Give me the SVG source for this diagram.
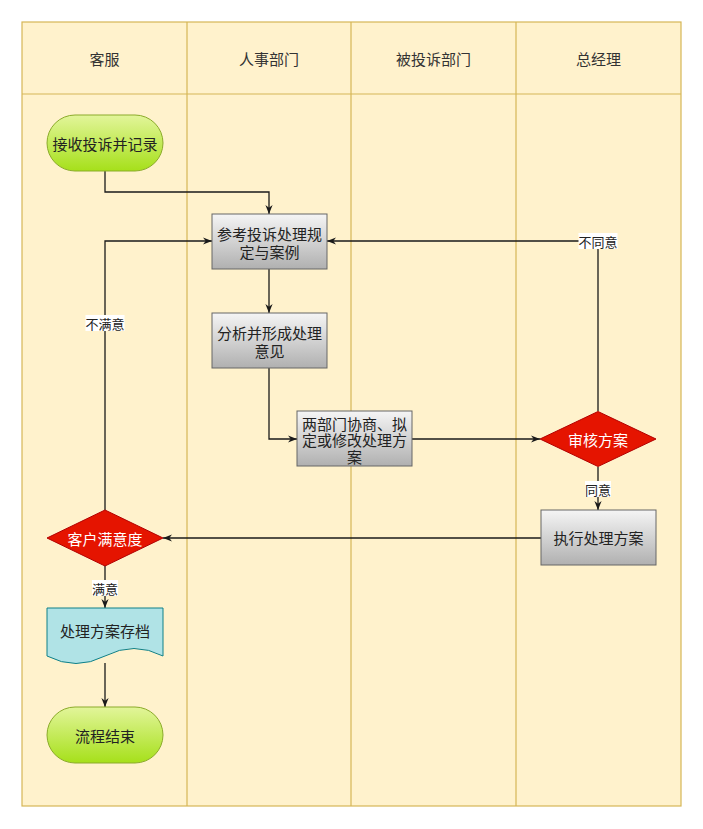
<svg xmlns="http://www.w3.org/2000/svg" width="703" height="829" viewBox="0 0 703 829">
<style>
.lane{fill:#fff2cc;stroke:#d6b656;stroke-width:1.2}
.hd{font-family:"Noto Sans CJK SC","Noto Sans",sans-serif;font-size:15px;fill:#333;text-anchor:middle;dominant-baseline:central}
.t{font-family:"Noto Sans CJK SC","Noto Sans",sans-serif;font-size:15px;fill:#222;text-anchor:middle;dominant-baseline:central}
.tw{font-family:"Noto Sans CJK SC","Noto Sans",sans-serif;font-size:15px;fill:#fff;text-anchor:middle;dominant-baseline:central}
.lb{font-family:"Noto Sans CJK SC","Noto Sans",sans-serif;font-size:13px;fill:#222;text-anchor:middle;dominant-baseline:central}
.c{fill:none;stroke:#1a1a1a;stroke-width:1.3;marker-end:url(#arr)}
.term{fill:url(#gGreen);stroke:#8bab2a;stroke-width:1}
.box{fill:url(#gGray);stroke:#666;stroke-width:1}
.dia{fill:#e51400;stroke:#b20000;stroke-width:1}
.doc{fill:#b0e3e6;stroke:#0e8088;stroke-width:1}
.lbg{fill:#fff}
</style>
<defs>
<linearGradient id="gGreen" x1="0" y1="0" x2="0" y2="1">
<stop offset="0" stop-color="#e2f59a"/>
<stop offset="1" stop-color="#a6e01a"/>
</linearGradient>
<linearGradient id="gGray" x1="0" y1="0" x2="0" y2="1">
<stop offset="0" stop-color="#f5f5f5"/>
<stop offset="1" stop-color="#b0b0b0"/>
</linearGradient>
<marker id="arr" viewBox="0 0 10 10" refX="10" refY="5" markerWidth="9" markerHeight="9" markerUnits="userSpaceOnUse" orient="auto">
<path d="M0,1 L10,5 L0,9 L3,5 Z" fill="#1a1a1a"/>
</marker>
</defs>
<g id="pool">
<rect class="lane" x="22" y="22" width="659" height="784"/>
<line class="lane" x1="22" y1="94" x2="681" y2="94"/>
<line class="lane" x1="187" y1="22" x2="187" y2="806"/>
<line class="lane" x1="351" y1="22" x2="351" y2="806"/>
<line class="lane" x1="516" y1="22" x2="516" y2="806"/>
<text class="hd" x="104.5" y="58">客服</text>
<text class="hd" x="269" y="58">人事部门</text>
<text class="hd" x="433.5" y="58">被投诉部门</text>
<text class="hd" x="598.5" y="58">总经理</text>
</g>
<g id="connectors">
<path class="c" d="M105,171 V192 H269 V214"/>
<path class="c" d="M269,269 V313"/>
<path class="c" d="M269,368 V439 H297"/>
<path class="c" d="M412,439 H540"/>
<path class="c" d="M598,467 V510"/>
<path class="c" d="M598,411 V241 H327"/>
<path class="c" d="M541,538 H163"/>
<path class="c" d="M105,510 V241 H212"/>
<path class="c" d="M105,565 V608"/>
<path class="c" d="M105,663 V707"/>
<rect class="lbg" x="585" y="481" width="26" height="16"/>
<text class="lb" x="598" y="489">同意</text>
<rect class="lbg" x="578.5" y="233" width="39" height="16"/>
<text class="lb" x="598" y="241">不同意</text>
<rect class="lbg" x="85.5" y="315" width="39" height="16"/>
<text class="lb" x="105" y="323">不满意</text>
<rect class="lbg" x="92" y="580" width="26" height="16"/>
<text class="lb" x="105" y="588">满意</text>
</g>
<g id="start">
<rect class="term" x="47" y="115" width="116" height="56" rx="28" ry="28"/>
<text class="t" x="105" y="143">接收投诉并记录</text>
</g>
<g id="ref">
<rect class="box" x="212" y="214" width="115" height="55"/>
<text class="t"><tspan x="269.5" y="232.5">参考投诉处理规</tspan><tspan x="269.5" y="251">定与案例</tspan></text>
</g>
<g id="analyze">
<rect class="box" x="212" y="313" width="115" height="55"/>
<text class="t"><tspan x="269.5" y="331.5">分析并形成处理</tspan><tspan x="269.5" y="350">意见</tspan></text>
</g>
<g id="negotiate">
<rect class="box" x="297" y="411" width="115" height="55"/>
<text class="t"><tspan x="354.5" y="422.5">两部门协商、拟</tspan><tspan x="354.5" y="439">定或修改处理方</tspan><tspan x="354.5" y="455.5">案</tspan></text>
</g>
<g id="review">
<path class="dia" d="M540,439 L598,411.5 L656,439 L598,466.5 Z"/>
<text class="tw" x="598" y="439">审核方案</text>
</g>
<g id="execute">
<rect class="box" x="541" y="510" width="115" height="55"/>
<text class="t" x="598.5" y="537.5">执行处理方案</text>
</g>
<g id="satisfaction">
<path class="dia" d="M47,538 L105,510 L163,538 L105,566 Z"/>
<text class="tw" x="105" y="538">客户满意度</text>
</g>
<g id="archive">
<path class="doc" d="M47,608 H163 V656 Q134,641 105,656 T47,656 Z"/>
<text class="t" x="105" y="630">处理方案存档</text>
</g>
<g id="end">
<rect class="term" x="47" y="707" width="116" height="56" rx="28" ry="28"/>
<text class="t" x="105" y="735">流程结束</text>
</g>
</svg>
